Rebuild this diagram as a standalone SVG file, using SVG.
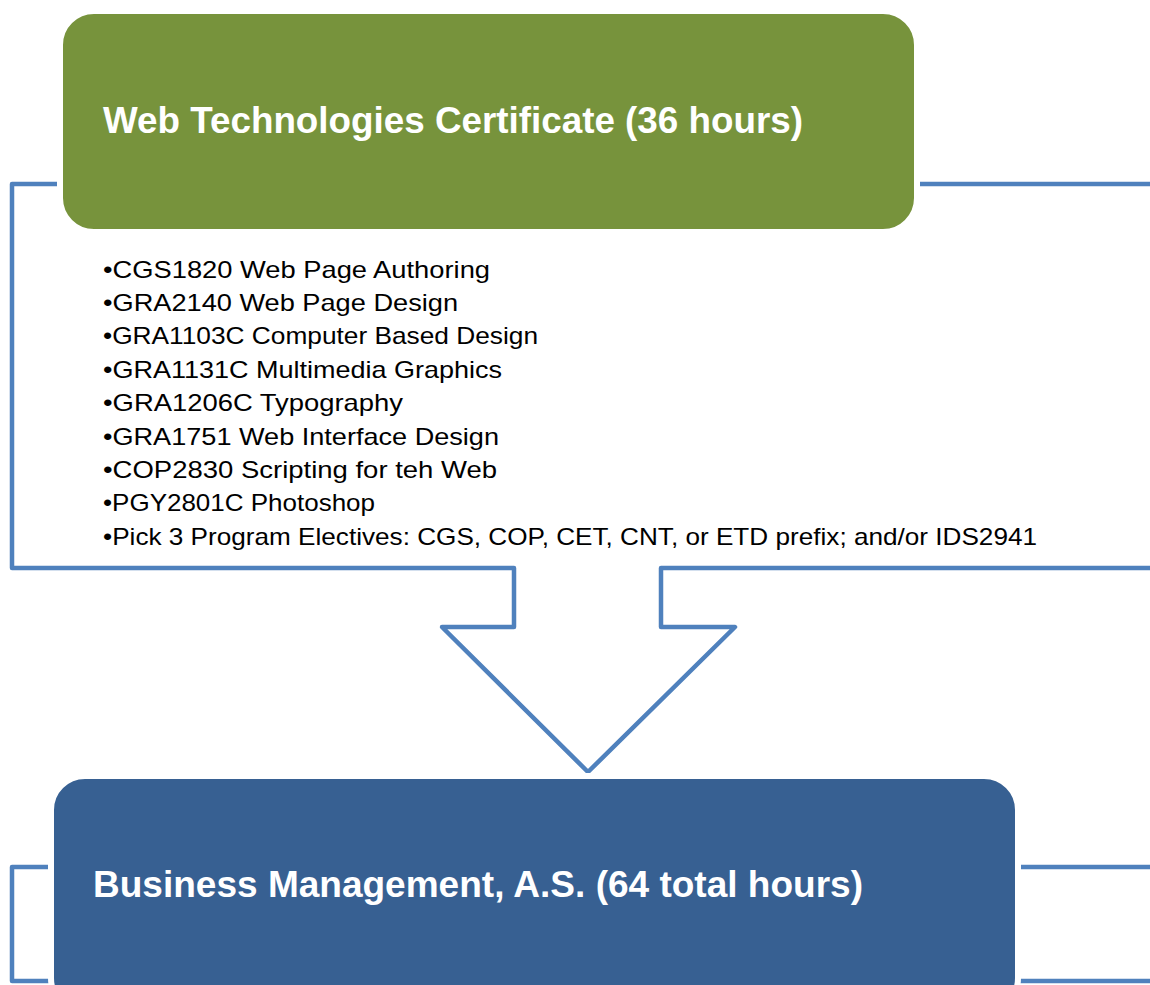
<svg xmlns="http://www.w3.org/2000/svg" width="1150" height="985" viewBox="0 0 1150 985">
<style>
.outline{fill:none;stroke:#4F81BD;stroke-width:4.5;stroke-linejoin:round}
.box{stroke:#FFFFFF;stroke-width:6}
.title{font-family:"Liberation Sans",Arial,sans-serif;font-weight:bold;font-size:36px;fill:#FFFFFF}
.item{font-family:"Liberation Sans",Arial,sans-serif;font-size:24px;fill:#000000}
</style>
<rect width="1150" height="985" fill="#FFFFFF"/>
<g id="connectors">
<path class="outline" d="M1160,184 L12,184 L12,568 L514,568 L514,627 L442,627 L588,772 L735,627 L661,627 L661,568 L1160,568"/>
<path class="outline" d="M1160,867 L12,867 L12,981 L1160,981"/>
</g>
<g id="node-web">
<rect class="box" x="60" y="11" width="857" height="221" rx="34" ry="34" fill="#77933C"/>
<text class="title" x="103" y="133" textLength="700" lengthAdjust="spacingAndGlyphs">Web Technologies Certificate (36 hours)</text>
</g>
<g id="node-courses">
<text class="item" x="103" y="278" textLength="387" lengthAdjust="spacingAndGlyphs">•CGS1820 Web Page Authoring</text>
<text class="item" x="103" y="311" textLength="355" lengthAdjust="spacingAndGlyphs">•GRA2140 Web Page Design</text>
<text class="item" x="103" y="344" textLength="435" lengthAdjust="spacingAndGlyphs">•GRA1103C Computer Based Design</text>
<text class="item" x="103" y="378" textLength="399" lengthAdjust="spacingAndGlyphs">•GRA1131C Multimedia Graphics</text>
<text class="item" x="103" y="411" textLength="300" lengthAdjust="spacingAndGlyphs">•GRA1206C Typography</text>
<text class="item" x="103" y="445" textLength="396" lengthAdjust="spacingAndGlyphs">•GRA1751 Web Interface Design</text>
<text class="item" x="103" y="478" textLength="394" lengthAdjust="spacingAndGlyphs">•COP2830 Scripting for teh Web</text>
<text class="item" x="103" y="511" textLength="272" lengthAdjust="spacingAndGlyphs">•PGY2801C Photoshop</text>
<text class="item" x="103" y="545" textLength="934" lengthAdjust="spacingAndGlyphs">•Pick 3 Program Electives: CGS, COP, CET, CNT, or ETD prefix; and/or IDS2941</text>
</g>
<g id="node-business">
<rect class="box" x="51" y="776" width="967" height="236" rx="34" ry="34" fill="#376092"/>
<text class="title" x="93" y="897" textLength="770" lengthAdjust="spacingAndGlyphs">Business Management, A.S. (64 total hours)</text>
</g>
</svg>
